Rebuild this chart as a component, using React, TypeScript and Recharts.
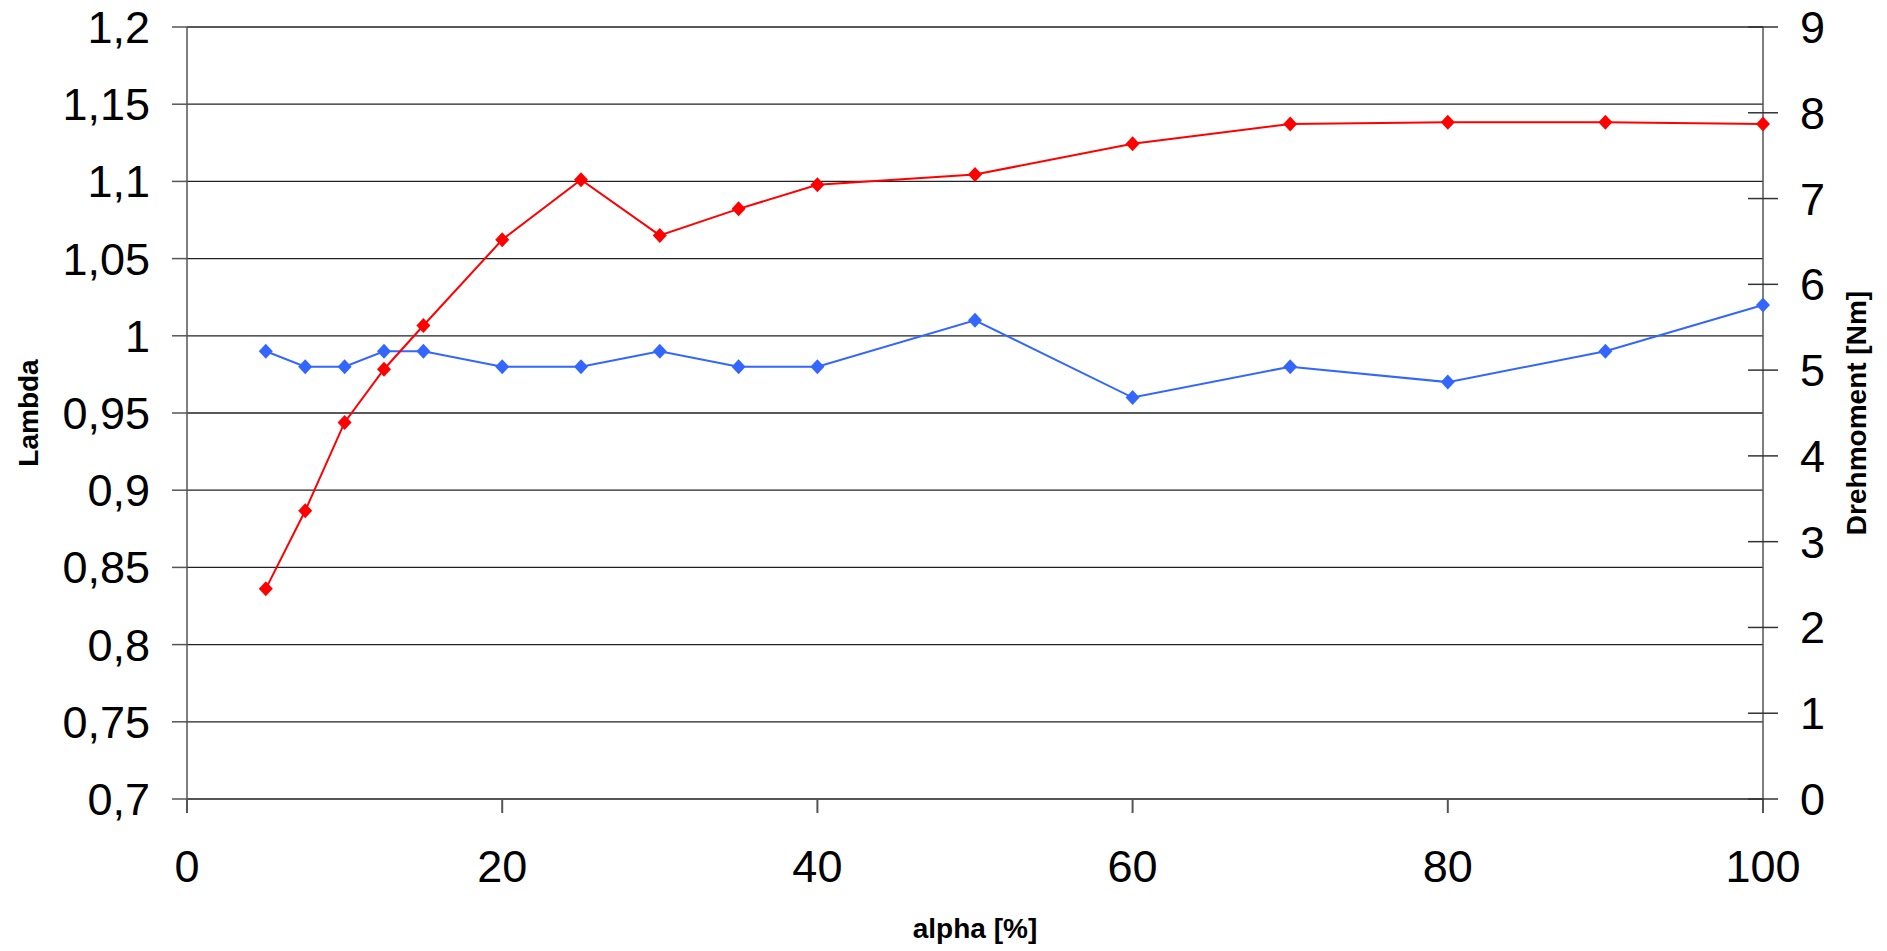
import React from 'react';
import { LineChart, Line, XAxis, YAxis, CartesianGrid } from 'recharts';

const alpha = [5, 7.5, 10, 12.5, 15, 20, 25, 30, 35, 40, 50, 60, 70, 80, 90, 100];
const lambda = [0.99, 0.98, 0.98, 0.99, 0.99, 0.98, 0.98, 0.99, 0.98, 0.98, 1.01, 0.96, 0.98, 0.97, 0.99, 1.02];
const torque = [2.45, 3.36, 4.39, 5.01, 5.52, 6.52, 7.22, 6.57, 6.88, 7.16, 7.28, 7.64, 7.87, 7.89, 7.89, 7.87];

const xTicks = [0, 20, 40, 60, 80, 100];
const lambdaTicks = [0.7, 0.75, 0.8, 0.85, 0.9, 0.95, 1, 1.05, 1.1, 1.15, 1.2];
const torqueTicks = [0, 1, 2, 3, 4, 5, 6, 7, 8, 9];

const data = alpha.map((a, i) => ({ alpha: a, lambda: lambda[i], torque: torque[i] }));

const FONT = '"Liberation Sans", Arial, sans-serif';
const tickFont = { fontFamily: FONT, fontSize: 45, fill: '#000' };
const titleFont = { fontFamily: FONT, fontSize: 28, fontWeight: 700, fill: '#000' };

const fmtComma = (v: number) => String(Number(v.toFixed(2))).replace('.', ',');

const diamond = (color: string) => (props: any) => {
  const { cx, cy, index } = props;
  if (cx == null || cy == null) return <g key={index} />;
  const w = 7;
  const h = 7.5;
  return (
    <path
      key={index}
      d={`M${cx},${cy - h}L${cx + w},${cy}L${cx},${cy + h}L${cx - w},${cy}Z`}
      fill={color}
      stroke="none"
    />
  );
};

// right axis ticks cross the axis line
const RightTick = (props: any) => {
  const { x, y, payload } = props;
  const axisX = x - 37;
  return (
    <g>
      <line x1={axisX - 15} y1={y} x2={axisX + 15} y2={y} stroke="#333" strokeWidth={1.5} />
      <text x={x} y={y} dy="0.355em" textAnchor="start" {...tickFont}>
        {payload.value}
      </text>
    </g>
  );
};

export default function App() {
  return (
    <div style={{ position: 'absolute', left: 0, top: 0, background: '#fff' }}>
      <LineChart width={1887} height={951} data={data} margin={{ top: 27, right: 0, left: 0, bottom: 12 }}>
        <CartesianGrid yAxisId="left" vertical={false} stroke="#222" strokeWidth={1.3} />
        <XAxis
          dataKey="alpha"
          type="number"
          domain={[0, 100]}
          ticks={xTicks}
          height={140}
          tickSize={14}
          tickMargin={37}
          tick={tickFont}
          stroke="#555"
          strokeWidth={2}
          label={{ value: 'alpha [%]', position: 'insideBottom', offset: 1, ...titleFont }}
        />
        <YAxis
          yAxisId="left"
          domain={[0.7, 1.2]}
          ticks={lambdaTicks}
          tickFormatter={fmtComma}
          width={187}
          tickSize={15}
          tickMargin={22}
          tick={tickFont}
          stroke="#555"
          strokeWidth={1.5}
          interval={0}
          label={{ value: 'Lambda', angle: -90, position: 'insideLeft', offset: 28, style: { textAnchor: 'middle' }, ...titleFont }}
        />
        <YAxis
          yAxisId="right"
          orientation="right"
          domain={[0, 9]}
          ticks={torqueTicks}
          width={124}
          tickSize={15}
          tickMargin={22}
          tickLine={false}
          tick={<RightTick />}
          stroke="#555"
          strokeWidth={1.5}
          interval={0}
          label={{ value: 'Drehmoment [Nm]', angle: -90, position: 'insideRight', offset: 31, style: { textAnchor: 'middle' }, ...titleFont }}
        />
        <Line
          yAxisId="left"
          type="linear"
          dataKey="lambda"
          stroke="#3366FF"
          strokeWidth={2}
          dot={diamond('#3366FF')}
          activeDot={false}
          isAnimationActive={false}
        />
        <Line
          yAxisId="right"
          type="linear"
          dataKey="torque"
          stroke="#FF0000"
          strokeWidth={2}
          dot={diamond('#FF0000')}
          activeDot={false}
          isAnimationActive={false}
        />
      </LineChart>
    </div>
  );
}
